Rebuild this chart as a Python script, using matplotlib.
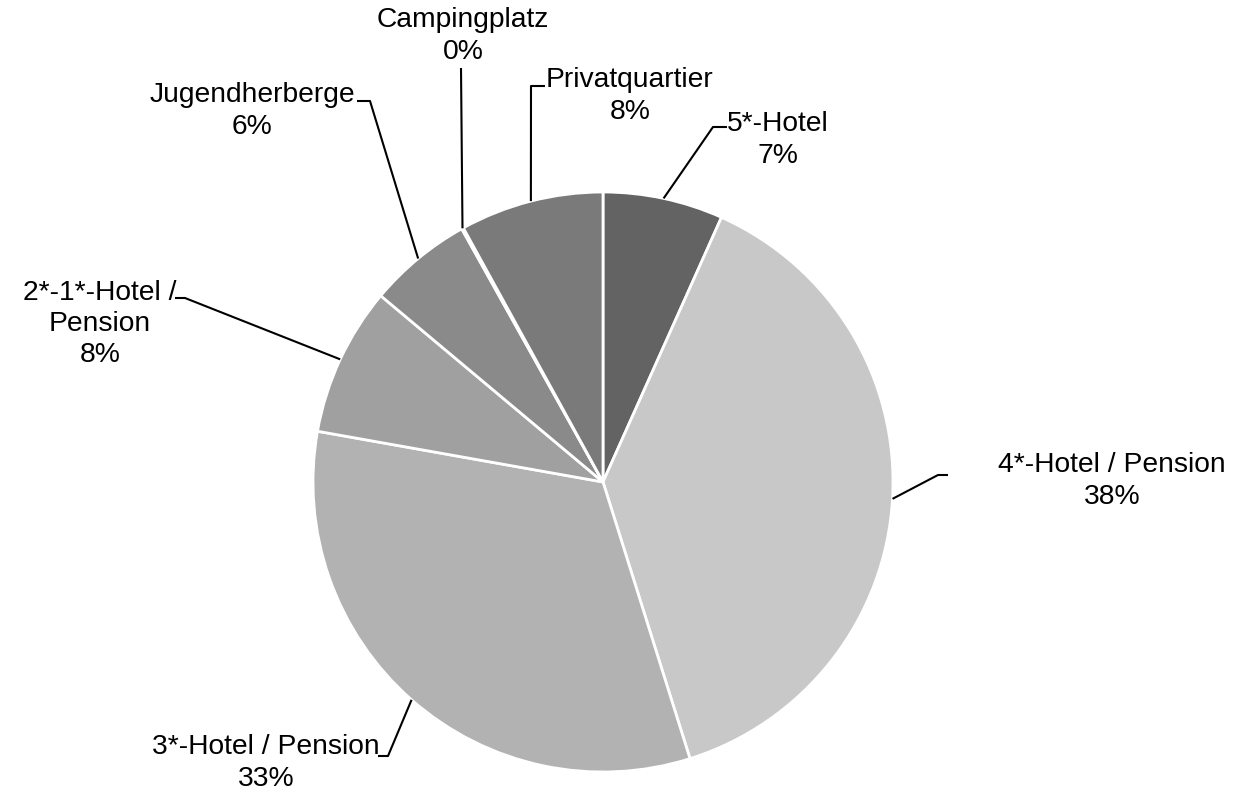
import numpy as np
import matplotlib
matplotlib.use("Agg")
import matplotlib.pyplot as plt

plt.rcParams['font.family'] = ['Liberation Sans', 'DejaVu Sans']

# data, clockwise from 12 o'clock
categories = ["5*-Hotel", "4*-Hotel / Pension", "3*-Hotel / Pension",
              "2*-1*-Hotel /\nPension", "Jugendherberge", "Campingplatz",
              "Privatquartier"]
shares = [6.7, 38.45, 32.65, 8.3, 5.8, 0.1, 8.0]
colors = ["#636363", "#c8c8c8", "#b2b2b2", "#a0a0a0", "#8a8a8a",
          "#808080", "#7a7a7a"]

# layout in image pixels (x right, y down): label centre, elbow, line end
W, H = 1250, 794
label_pos = [(778, 140), (1112, 481), (266, 763), (100, 324),
             (252, 111), (463, 36), (630, 96)]
elbow_pos = [(713, 127), (938, 475), (388, 756), (185, 298),
             (370, 101), (461, 68), (531, 86)]
end_pos = [(727, 127), (948, 475), (378, 756), (175, 298),
           (357, 101), (461, 68), (545, 86)]

center_px = (603, 482)
radius = 290


def to_data(p):
    return p[0], H - p[1]


fig = plt.figure(figsize=(W / 100, H / 100), dpi=100)
ax = fig.add_axes([0, 0, 1, 1])

cx, cy = to_data(center_px)
wedges, _ = ax.pie(shares, colors=colors, startangle=90, counterclock=False,
                   center=(cx, cy), radius=radius, frame=True,
                   wedgeprops=dict(edgecolor="white", linewidth=2))

for w, name, v, lp, ep, endp in zip(wedges, categories, shares,
                                    label_pos, elbow_pos, end_pos):
    mid = np.deg2rad((w.theta1 + w.theta2) / 2)
    sx = cx + radius * np.cos(mid)
    sy = cy + radius * np.sin(mid)
    ex, ey = to_data(ep)
    tx, ty = to_data(endp)
    ax.plot([sx, ex, tx], [sy, ey, ty], color="black", lw=1.5,
            solid_capstyle="butt")
    lx, ly = to_data(lp)
    ax.text(lx, ly, f"{name}\n{v:.0f}%", ha="center", va="center",
            multialignment="center", fontsize=20.3, linespacing=1.27)

ax.set_xlim(0, W)
ax.set_ylim(0, H)
ax.set_aspect("equal")
ax.axis("off")

fig.savefig("out.png", dpi=100, facecolor="white")
